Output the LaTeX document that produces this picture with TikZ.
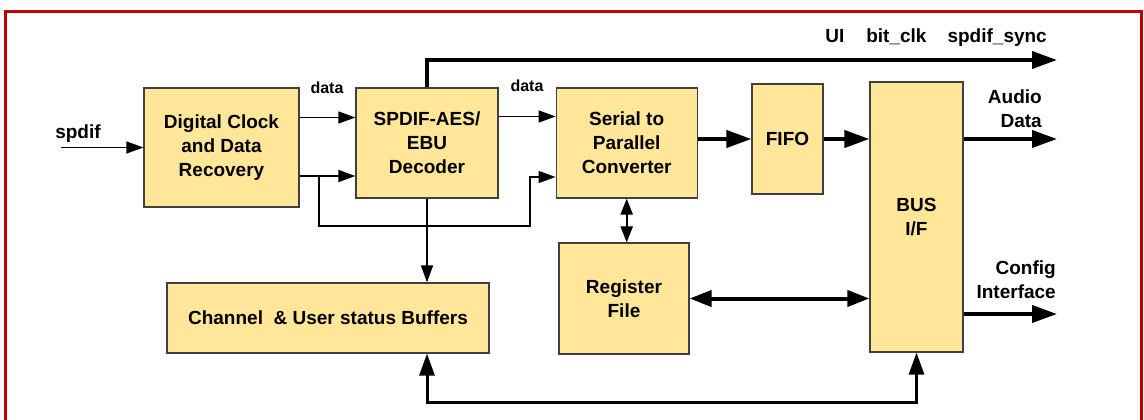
\documentclass[tikz,border=0pt]{standalone}
\usepackage{fontspec}
\setmainfont{Liberation Sans}
\usetikzlibrary{arrows.meta, positioning}
\definecolor{boxfill}{HTML}{FFE699}
\definecolor{boxline}{HTML}{404040}
\definecolor{framered}{HTML}{C00000}

\begin{document}
\begin{tikzpicture}[
    x=1pt, y=-1pt,
    box/.style={rectangle, draw=boxline, line width=1.2pt, fill=boxfill, align=center, inner sep=0pt, font=\bfseries\fontsize{19}{24}\selectfont},
    lbl/.style={font=\bfseries\fontsize{19}{24}\selectfont, align=right, inner sep=0pt},
    datalbl/.style={font=\bfseries\fontsize{16}{19}\selectfont, inner sep=0pt},
    sigarrow/.style={-{Triangle[length=17pt, width=12pt]}, line width=1.3pt},
    busarrow/.style={-{Triangle[length=25pt, width=17pt]}, line width=4pt},
    regarrow/.style={{Triangle[length=22pt, width=16pt]}-{Triangle[length=22pt, width=16pt]}, line width=4pt},
    ctlarrow/.style={{Triangle[length=16pt, width=12pt]}-{Triangle[length=16pt, width=12pt]}, line width=2pt},
    looparrow/.style={{Triangle[length=22pt, width=15pt]}-{Triangle[length=22pt, width=15pt]}, line width=3pt}
]

\useasboundingbox (0,0) rectangle (1144,420);
\draw[framered, line width=3pt] (5.5,11.3) rectangle (1141.5,422);

% Nodes
\node[box, minimum width=155pt, minimum height=119pt] (dcdr) at (221.5,147.5) {Digital Clock\\and Data\\Recovery};
\node[box, minimum width=142pt, minimum height=110pt] (dec) at (427,143) {SPDIF-AES/\\EBU\\Decoder};
\node[box, minimum width=141pt, minimum height=110pt, right=57pt of dec] (s2p) {Serial to\\ Parallel\\Converter};
\node[box, minimum width=71pt, minimum height=110pt] (fifo) at (787.5,139) {FIFO};
\node[box, minimum width=93pt, minimum height=270pt] (busif) at (916.5,217) {BUS\\I/F};
\node[box, minimum width=130pt, minimum height=111pt] (reg) at (624,298.5) {Register\\File};
\node[box, minimum width=322pt, minimum height=70pt] (chan) at (328,318) {Channel\ \ \& User status Buffers};

% Labels
\node[lbl, anchor=base] (spdiflbl) at (78,138) {spdif};
\node[datalbl, anchor=base] (data1) at (327,93) {data};
\node[datalbl, anchor=base] (data2) at (527,92) {data};
\node[lbl, anchor=base east] (synclbl) at (1047,43) {UI\hspace{22pt}bit\_clk\hspace{21pt}spdif\_sync};
\node[lbl, anchor=north east] (audiolbl) at (1042,90) {Audio\\Data};
\node[lbl, anchor=north east] (cfglbl) at (1056,261) {Config\\Interface};

% Free ends
\coordinate (spdifin) at (61,147.5);
\coordinate (split) at (319,176);
\coordinate (syncout) at (1057,60);
\coordinate (audioout) at (1057,139);
\coordinate (cfgout) at (1057,314);

% Arrows
\draw[sigarrow] (spdifin) -- (dcdr);
\draw[sigarrow] (dcdr.east |- 0,117.5) -- (dec.west |- 0,117.5);
\draw[sigarrow] (dcdr.east |- split) -- (dec.west |- split);
\draw[sigarrow] (split) |- (530,226) |- (s2p.west |- 0,177);
\draw[sigarrow] (dec.east |- 0,116.5) -- (s2p.west |- 0,116.5);
\draw[sigarrow] (dec.south) -- (dec.south |- chan.north);
\draw[busarrow] (dec.north) |- (syncout);
\draw[busarrow] (s2p.east |- fifo) -- (fifo.west);
\draw[busarrow] (fifo.east) -- (fifo.east -| busif.west);
\draw[busarrow] (busif.east |- audioout) -- (audioout);
\draw[busarrow] (busif.east |- cfgout) -- (cfgout);
\draw[ctlarrow] (s2p.south) -- (s2p.south |- reg.north);
\draw[regarrow] (reg.east) -- (reg.east -| busif.west);
\draw[looparrow] (dec.south |- chan.south) |- (busif.south |- 0,402) -- (busif.south);

\end{tikzpicture}
\end{document}
